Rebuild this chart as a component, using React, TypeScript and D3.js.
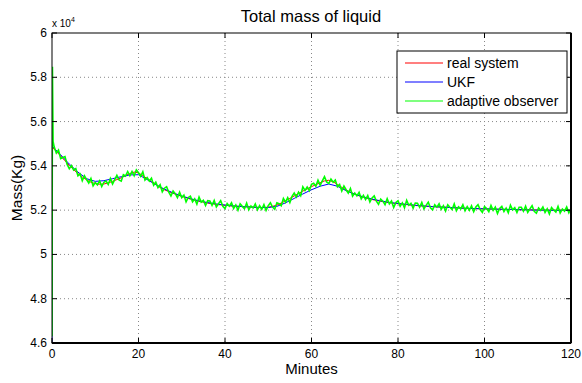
import React from 'react';
import * as d3 from 'd3';

// axis ticks
const xTicks = [0, 20, 40, 60, 80, 100, 120];
const yTicks = [46000, 48000, 50000, 52000, 54000, 56000, 58000, 60000];
const yTickLabels = ['4.6', '4.8', '5', '5.2', '5.4', '5.6', '5.8', '6'];

// real system, one value per minute (0..120)
const realMass = [
  54850, 54650, 54450, 54230, 54020, 53830, 53650, 53500, 53370, 53260,
  53200, 53170, 53180, 53230, 53300, 53380, 53460, 53560, 53650, 53720,
  53680, 53560, 53420, 53290, 53180, 53020, 52920, 52840, 52760, 52690,
  52620, 52560, 52500, 52450, 52400, 52360, 52320, 52290, 52260, 52240,
  52220, 52200, 52180, 52170, 52160, 52150, 52140, 52130, 52120, 52120,
  52130, 52170, 52230, 52320, 52420, 52530, 52640, 52750, 52860, 52960,
  53060, 53150, 53240, 53320, 53350, 53280, 53160, 53030, 52910, 52810,
  52720, 52650, 52590, 52530, 52480, 52440, 52400, 52370, 52340, 52310,
  52290, 52270, 52250, 52230, 52210, 52200, 52180, 52170, 52160, 52150,
  52140, 52130, 52120, 52110, 52100, 52090, 52080, 52070, 52070, 52060,
  52060, 52050, 52050, 52040, 52040, 52030, 52030, 52030, 52020, 52020,
  52020, 52010, 52010, 52010, 52000, 52000, 52000, 52000, 52000, 51990,
  51990,
];

// UKF estimate, one value every 2 minutes (0..120), starts from 46000
const ukfStart: [number, number][] = [[0, 46000]];
const ukfMass = [
  54900, 54500, 54080, 53720, 53420, 53300, 53330, 53420, 53510, 53590,
  53600, 53380, 53150, 52950, 52780, 52640, 52520, 52420, 52340, 52280,
  52230, 52190, 52160, 52140, 52120, 52120, 52170, 52330, 52530, 52730,
  52920, 53080, 53180, 53080, 52880, 52720, 52600, 52500, 52420, 52350,
  52300, 52260, 52220, 52190, 52160, 52140, 52120, 52100, 52080, 52070,
  52060, 52050, 52040, 52030, 52020, 52010, 52000, 52000, 51990, 51990,
  51990,
];

// adaptive observer: start-up transient, then one value every half minute (0.5..120)
const observerStart: [number, number][] = [[0, 46300], [0.1, 58480], [0.25, 55100]];
const observerMass = [
  54860, 54580, 54710, 54330, 54380, 54420, 54065, 53870, 54015, 53810,
  53880, 53550, 53635, 53330, 53555, 53380, 53225, 53430, 53100, 53250,
  53145, 53320, 53065, 53260, 53315, 53160, 53425, 53180, 53380, 53570,
  53360, 53310, 53600, 53540, 53745, 53550, 53745, 53550, 53820, 53690,
  53530, 53730, 53360, 53470, 53315, 53440, 53125, 53260, 53020, 53150,
  52830, 52990, 53060, 52810, 52640, 52860, 52745, 52570, 52815, 52560,
  52680, 52370, 52570, 52630, 52375, 52510, 52275, 52590, 52360, 52440,
  52210, 52430, 52415, 52220, 52435, 52140, 52290, 52430, 52170, 52070,
  52300, 52180, 52330, 52080, 52235, 52000, 52285, 52170, 52065, 52320,
  52015, 52190, 52095, 52280, 52015, 52200, 52040, 52250, 51985, 52200,
  52330, 52140, 52040, 52330, 52295, 52200, 52530, 52360, 52565, 52340,
  52625, 52770, 52595, 52810, 52655, 53050, 52890, 53040, 52880, 53170,
  53215, 53080, 53355, 53120, 53320, 53510, 53275, 53200, 53405, 53260,
  53360, 53060, 53155, 52860, 53090, 52920, 52770, 52980, 52635, 52770,
  52645, 52800, 52510, 52670, 52480, 52660, 52365, 52550, 52640, 52410,
  52260, 52500, 52405, 52250, 52515, 52280, 52415, 52120, 52340, 52420,
  52180, 52330, 52110, 52440, 52220, 52310, 52090, 52320, 52315, 52130,
  52350, 52060, 52215, 52360, 52105, 52010, 52245, 52130, 52285, 52040,
  52195, 51960, 52245, 52130, 52025, 52280, 51975, 52150, 52055, 52240,
  51975, 52160, 51995, 52200, 51930, 52140, 52245, 52030, 51900, 52160,
  52075, 51930, 52210, 51990, 52135, 51850, 52080, 52170, 51935, 52090,
  51880, 52220, 52010, 52110, 51895, 52130, 52130, 51950, 52180, 51900,
  52055, 52200, 51950, 51860, 52100, 51990, 52145, 51900, 52060, 51830,
  52120, 52010, 51910, 52170, 51870, 52050, 51955, 52140, 51880, 52070,
];

const legendItems = [
  { name: 'real system', color: '#ff0000' },
  { name: 'UKF', color: '#0000ff' },
  { name: 'adaptive observer', color: '#00ff00' },
];

const font = 'Liberation Sans, Arial, Helvetica, sans-serif';

export default function App() {
  const margin = { top: 33, right: 11, bottom: 40, left: 52 };
  const W = 582, H = 383;
  const width = W - margin.left - margin.right;
  const height = H - margin.top - margin.bottom;

  const x = d3.scaleLinear().domain([0, 120]).range([0, width]);
  const y = d3.scaleLinear().domain([46000, 60000]).range([height, 0]);

  const line = d3.line<[number, number]>()
    .x(d => x(d[0]))
    .y(d => y(d[1]));

  const realPts: [number, number][] = realMass.map((v, i) => [i, v]);
  const ukfPts: [number, number][] = ukfStart.concat(ukfMass.map((v, i) => [i * 2, v] as [number, number]));
  const obsPts: [number, number][] = observerStart.concat(observerMass.map((v, i) => [(i + 1) * 0.5, v] as [number, number]));

  return (
    <svg width={W} height={H} style={{ position: 'absolute', left: 0, top: 0, background: '#fff' }}>
      <defs>
        <clipPath id="plotclip">
          <rect x={0} y={0} width={width} height={height} />
        </clipPath>
      </defs>
      <text x={W / 2 + 20} y={22} textAnchor="middle" fontFamily={font} fontSize={16.5}>Total mass of liquid</text>
      <g transform={`translate(${margin.left},${margin.top})`}>
        {/* grid */}
        {xTicks.slice(1, -1).map(t => (
          <line key={'gx' + t} x1={x(t)} x2={x(t)} y1={0} y2={height} stroke="#888" strokeWidth={1} strokeDasharray="1,3" />
        ))}
        {yTicks.slice(1, -1).map(t => (
          <line key={'gy' + t} x1={0} x2={width} y1={y(t)} y2={y(t)} stroke="#888" strokeWidth={1} strokeDasharray="1,3" />
        ))}

        {/* series */}
        <g clipPath="url(#plotclip)" fill="none">
          <path d={line(realPts) || ''} stroke="#ff0000" strokeWidth={1} />
          <path d={line(ukfPts) || ''} stroke="#0000ff" strokeWidth={1} />
          <path d={line(obsPts) || ''} stroke="#00ff00" strokeWidth={1.6} />
        </g>

        {/* box */}
        <rect x={0} y={0} width={width} height={height} fill="none" stroke="#000" strokeWidth={1} />
        <line x1={0} x2={width} y1={height} y2={height} stroke="#000" strokeWidth={2} />
        <line x1={width} x2={width} y1={0} y2={height} stroke="#000" strokeWidth={2} />

        {/* ticks */}
        {xTicks.map(t => (
          <g key={'xt' + t}>
            <line x1={x(t)} x2={x(t)} y1={height} y2={height - 5} stroke="#000" />
            <line x1={x(t)} x2={x(t)} y1={0} y2={5} stroke="#000" />
            <text x={x(t)} y={height + 15} textAnchor="middle" fontFamily={font} fontSize={12}>{t}</text>
          </g>
        ))}
        {yTicks.map((t, i) => (
          <g key={'yt' + t}>
            <line x1={0} x2={5} y1={y(t)} y2={y(t)} stroke="#000" />
            <line x1={width} x2={width - 5} y1={y(t)} y2={y(t)} stroke="#000" />
            <text x={-5} y={y(t) + 4} textAnchor="end" fontFamily={font} fontSize={12}>{yTickLabels[i]}</text>
          </g>
        ))}
        <text x={0} y={-6.5} fontFamily={font} fontSize={10}>
          x 10<tspan dy={-5} fontSize={7}>4</tspan>
        </text>

        {/* legend */}
        <g transform="translate(345,18)">
          <rect x={0} y={0} width={170} height={62} fill="#fff" stroke="#000" strokeWidth={1} />
          {legendItems.map((d, i) => (
            <g key={d.name} transform={`translate(0,${12 + i * 19})`}>
              <line x1={8} x2={46} y1={0} y2={0} stroke={d.color} strokeWidth={1.2} />
              <text x={50} y={5} fontFamily={font} fontSize={14}>{d.name}</text>
            </g>
          ))}
        </g>
      </g>

      {/* axis labels */}
      <text x={margin.left + width / 2} y={374} textAnchor="middle" fontFamily={font} fontSize={15}>Minutes</text>
      <text transform={`translate(22,${margin.top + height / 2}) rotate(-90)`} textAnchor="middle" fontFamily={font} fontSize={15.5}>Mass(Kg)</text>
    </svg>
  );
}
